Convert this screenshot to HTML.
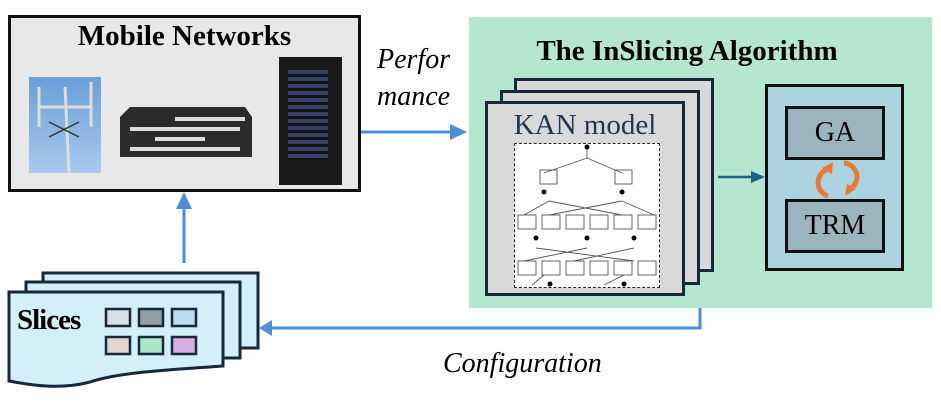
<!DOCTYPE html>
<html><head><style>
body{margin:0;width:941px;height:403px;background:#fff;overflow:hidden;position:relative;font-family:"Liberation Serif",serif}
.a{position:absolute;box-sizing:border-box;font-family:"Liberation Serif",serif}
</style></head><body>
<!-- Mobile networks -->
<div class="a" style="left:8px;top:15px;width:353px;height:177px;background:#e8e8e8;border:3px solid #111"></div>
<div class="a" style="left:8px;top:18px;width:353px;text-align:center;font-weight:bold;font-size:29px;line-height:36px">Mobile Networks</div>
<div class="a" style="left:29px;top:77px;width:72px;height:96px;background:linear-gradient(#6a9fd8,#a9c9ec)"></div>
<svg class="a" style="left:29px;top:77px" width="72" height="96"><g stroke="#ddd" stroke-width="3"><line x1="36" y1="10" x2="40" y2="96"/><line x1="10" y1="10" x2="10" y2="50"/><line x1="62" y1="5" x2="62" y2="50"/><line x1="10" y1="30" x2="62" y2="30"/></g><g stroke="#333" stroke-width="1.5"><line x1="20" y1="45" x2="50" y2="60"/><line x1="50" y1="45" x2="20" y2="60"/></g></svg>
<svg class="a" style="left:120px;top:87px" width="135" height="76"><polygon points="10,20 125,20 132,30 132,70 0,70 0,30" fill="#2b2b2b"/><g fill="#ddd"><rect x="55" y="30" width="70" height="4"/><rect x="10" y="40" width="110" height="4"/><rect x="35" y="50" width="50" height="4"/><rect x="10" y="60" width="110" height="4"/></g></svg>
<div class="a" style="left:279px;top:57px;width:63px;height:128px;background:#1a1a1a"></div>
<div class="a" style="left:288px;top:70px;width:40px;height:90px;background:repeating-linear-gradient(#36416a 0 4px,#121212 4px 7px)"></div>
<div class="a" style="left:377px;top:41px;font-style:italic;font-size:28px;line-height:37px">Perfor<br>mance</div>
<svg class="a" style="left:0;top:0" width="941" height="403">
<line x1="361" y1="132" x2="452" y2="132" stroke="#4a90d9" stroke-width="3"/>
<polygon points="467,132 450,124 450,140" fill="#4a90d9"/>
<line x1="184" y1="263" x2="184" y2="205" stroke="#4a90d9" stroke-width="3"/>
<polygon points="184,192 176,209 192,209" fill="#4a90d9"/>
</svg>
<!-- Green -->
<div class="a" style="left:469px;top:17px;width:463px;height:291px;background:#b5e6cf"></div>
<div class="a" style="left:469px;top:33px;width:436px;text-align:center;font-weight:bold;font-size:29px;line-height:36px">The InSlicing Algorithm</div>
<div class="a" style="left:514px;top:78px;width:200px;height:194px;background:#d9d9d9;border:3px solid #17283a"></div>
<div class="a" style="left:500px;top:90px;width:200px;height:195px;background:#d9d9d9;border:3px solid #17283a"></div>
<div class="a" style="left:485px;top:101px;width:200px;height:195px;background:#d9d9d9;border:3px solid #17283a"></div>
<div class="a" style="left:485px;top:107px;width:200px;text-align:center;font-size:29px;line-height:36px;color:#1f3550">KAN model</div>
<div class="a" style="left:514px;top:143px;width:146px;height:145px;background:#fff;border:1.5px dashed #222"></div>
<svg class="a" style="left:514px;top:143px" width="146" height="145"><g stroke="#555" stroke-width="0.9" fill="none">
<line x1="73" y1="15" x2="30" y2="30"/><line x1="73" y1="15" x2="108" y2="30"/><line x1="73" y1="4" x2="73" y2="15"/>
<line x1="35" y1="58" x2="10" y2="72"/><line x1="35" y1="58" x2="108" y2="72"/><line x1="108" y1="58" x2="35" y2="72"/><line x1="108" y1="58" x2="140" y2="72"/>
<line x1="22" y1="105" x2="120" y2="118"/><line x1="73" y1="105" x2="10" y2="118"/><line x1="120" y1="105" x2="60" y2="118"/>
<line x1="30" y1="132" x2="18" y2="142"/><line x1="110" y1="132" x2="90" y2="142"/>
<rect x="26" y="27" width="17" height="14"/><rect x="101" y="27" width="17" height="14"/>
<rect x="4" y="72" width="18" height="14"/><rect x="28" y="72" width="18" height="14"/><rect x="52" y="72" width="18" height="14"/><rect x="76" y="72" width="18" height="14"/><rect x="100" y="72" width="18" height="14"/><rect x="124" y="72" width="18" height="14"/>
<rect x="4" y="118" width="18" height="14"/><rect x="28" y="118" width="18" height="14"/><rect x="52" y="118" width="18" height="14"/><rect x="76" y="118" width="18" height="14"/><rect x="100" y="118" width="18" height="14"/><rect x="124" y="118" width="18" height="14"/>
</g><g fill="#000"><circle cx="73" cy="4" r="2.5"/><circle cx="30" cy="49" r="2.5"/><circle cx="108" cy="49" r="2.5"/><circle cx="22" cy="95" r="2.5"/><circle cx="73" cy="95" r="2.5"/><circle cx="120" cy="95" r="2.5"/><circle cx="36" cy="141" r="2.5"/><circle cx="110" cy="141" r="2.5"/></g></svg>
<svg class="a" style="left:0;top:0" width="941" height="403">
<line x1="718" y1="177" x2="752" y2="177" stroke="#1f5f8b" stroke-width="2.5"/>
<polygon points="765,177 751,171 751,183" fill="#1f5f8b"/>
</svg>
<div class="a" style="left:765px;top:84px;width:139px;height:187px;background:#add3e0;border:3px solid #111"></div>
<div class="a" style="left:785px;top:106px;width:100px;height:54px;background:#9bb5bf;border:3px solid #111;text-align:center;font-size:28px;line-height:48px">GA</div>
<div class="a" style="left:785px;top:199px;width:100px;height:54px;background:#9bb5bf;border:3px solid #111;text-align:center;font-size:28px;line-height:48px">TRM</div>
<svg class="a" style="left:0;top:0" width="941" height="403"><g fill="none" stroke="#e87a35" stroke-width="5">
<path d="M828,196 A14,14 0 0 1 826,170"/><path d="M844,163 A14,14 0 0 1 848,190"/></g>
<polygon points="833,162 822,168 832,174" fill="#e87a35"/><polygon points="845,196 856,189 847,184" fill="#e87a35"/>
</svg>
<!-- Slices -->
<svg class="a" style="left:0;top:0" width="941" height="403">
<g fill="#d3eff9" stroke="#17283a" stroke-width="3">
<rect x="43" y="273" width="215" height="75"/>
<rect x="26" y="282" width="214" height="76"/>
<path d="M9,292 H223 V366 C170,370 120,372 90,382 C60,390 30,385 9,381 Z"/>
</g>
<g stroke="#17283a" stroke-width="2.5">
<rect x="106" y="309" width="24" height="17" fill="#d6e1e6"/><rect x="139" y="309" width="24" height="17" fill="#949fa3"/><rect x="172" y="309" width="24" height="17" fill="#bcdcf2"/>
<rect x="106" y="337" width="24" height="17" fill="#e2d6d1"/><rect x="139" y="337" width="24" height="17" fill="#aae8c5"/><rect x="172" y="337" width="24" height="17" fill="#d5ade0"/>
</g>
<polyline points="700,308 700,328 272,328" fill="none" stroke="#4a90d9" stroke-width="3"/>
<polygon points="259,328 272,320 272,336" fill="#4a90d9"/>
</svg>
<div class="a" style="left:17px;top:302px;font-weight:bold;font-size:29px;line-height:36px;letter-spacing:-1px">Slices</div>
<div class="a" style="left:443px;top:346px;font-style:italic;font-size:28px;line-height:36px">Configuration</div>
</body></html>
